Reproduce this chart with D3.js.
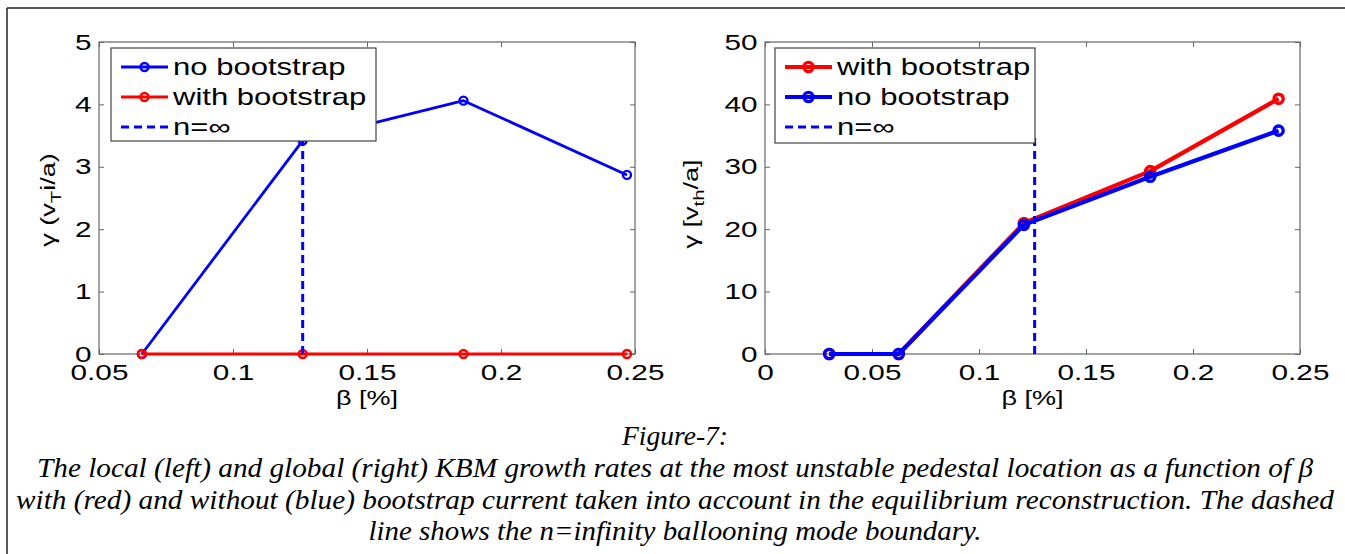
<!DOCTYPE html>
<html>
<head>
<meta charset="utf-8">
<script src="https://cdn.jsdelivr.net/npm/d3@7"></script>
<style>
  body { margin: 0; background: #fff; }
  svg { display: block; }
</style>
</head>
<body>
<div id="chart"></div>
<script>
// ---- data ----
let betaLocal = [0.066, 0.126, 0.186, 0.247];
let localNoBoot = [0, 3.42, 4.06, 2.87];
let localWithBoot = [0, 0, 0, 0];
let localBoundaryBeta = 0.126;
let localBoundaryTop = 3.42;

let betaGlobal = [0.03, 0.0625, 0.121, 0.18, 0.24];
let globalWithBoot = [0, 0, 21.0, 29.3, 40.9];
let globalNoBoot = [0, 0, 20.7, 28.4, 35.8];
let globalBoundaryBeta = 0.126;
let globalBoundaryTop = 35;

let localXTicks = [0.05, 0.1, 0.15, 0.2, 0.25];
let localYTicks = [0, 1, 2, 3, 4, 5];
let globalXTicks = [0, 0.05, 0.1, 0.15, 0.2, 0.25];
let globalYTicks = [0, 10, 20, 30, 40, 50];

let localLegend = ["no bootstrap", "with bootstrap", "n=\u221e"];
let globalLegend = ["with bootstrap", "no bootstrap", "n=\u221e"];

let captionLines = [
  "Figure-7:",
  "The local (left) and global (right) KBM growth rates at the most unstable pedestal location as a function of \u03b2",
  "with (red) and without (blue) bootstrap current taken into account in the equilibrium reconstruction. The dashed",
  "line shows the n=infinity ballooning mode boundary."
];

// ---- layout ----
let svgWidth = 1345;
let svgHeight = 554;
let plotTop = 42;
let plotBottom = 354;
let SX = 1.35; // the original figure text is stretched sideways
let axisColor = "#666";
let blue = "#0000ff";
let red = "#ff0000";
let sansFont = "'Liberation Sans', Arial, Helvetica, sans-serif";

let svg = d3.select("#chart")
  .append("svg")
  .attr("width", svgWidth)
  .attr("height", svgHeight);

// page frame (table cell border)
svg.append("line").attr("x1", 7).attr("x2", svgWidth).attr("y1", 8).attr("y2", 8)
  .attr("stroke", "#222").attr("stroke-width", 1.5);
svg.append("line").attr("x1", 7).attr("x2", 7).attr("y1", 8).attr("y2", svgHeight)
  .attr("stroke", "#222").attr("stroke-width", 1.5);

function drawPanel(p) {
  let x = d3.scaleLinear().domain(p.xDomain).range([p.left, p.right]);
  let y = d3.scaleLinear().domain(p.yDomain).range([plotBottom, plotTop]);
  let g = svg.append("g");

  // axes (ticks pointing inward, on all four sides)
  let bottomAxis = d3.axisBottom(x).tickValues(p.xTicks).tickFormat(d => String(d))
    .tickSizeInner(-5).tickSizeOuter(0).tickPadding(10);
  let topAxis = d3.axisTop(x).tickValues(p.xTicks).tickFormat("")
    .tickSizeInner(-5).tickSizeOuter(0);
  let leftAxis = d3.axisLeft(y).tickValues(p.yTicks).tickFormat(d => String(d))
    .tickSizeInner(-5).tickSizeOuter(0).tickPadding(5.5);
  let rightAxis = d3.axisRight(y).tickValues(p.yTicks).tickFormat("")
    .tickSizeInner(-5).tickSizeOuter(0);

  let axes = [
    g.append("g").attr("transform", `translate(0,${plotBottom})`).call(bottomAxis),
    g.append("g").attr("transform", `translate(0,${plotTop})`).call(topAxis),
    g.append("g").attr("transform", `translate(${p.left},0)`).call(leftAxis),
    g.append("g").attr("transform", `translate(${p.right},0)`).call(rightAxis)
  ];
  axes.forEach(a => {
    a.select(".domain").remove();
    a.selectAll("line").attr("stroke", axisColor);
    a.selectAll("text")
      .attr("fill", "#000")
      .style("font-family", sansFont)
      .style("font-size", "22px")
      .attr("transform", `scale(${SX},1)`);
  });

  // box
  g.append("rect")
    .attr("x", p.left).attr("y", plotTop)
    .attr("width", p.right - p.left).attr("height", plotBottom - plotTop)
    .attr("fill", "none").attr("stroke", axisColor).attr("stroke-width", 1.2);

  // series
  let line = d3.line().x(d => x(d[0])).y(d => y(d[1]));
  p.series.forEach(s => {
    let pts = d3.zip(p.beta, s.values);
    g.append("path")
      .datum(pts)
      .attr("d", line)
      .attr("fill", "none")
      .attr("stroke", s.color)
      .attr("stroke-width", p.lineWidth)
      .attr("stroke-linejoin", "round");
    g.selectAll(null)
      .data(pts)
      .enter()
      .append("circle")
      .attr("cx", d => x(d[0]))
      .attr("cy", d => y(d[1]))
      .attr("r", p.markerR)
      .attr("fill", "none")
      .attr("stroke", s.color)
      .attr("stroke-width", p.markerStroke);
  });

  // n = infinity boundary
  g.append("path")
    .datum([[p.boundaryBeta, 0], [p.boundaryBeta, p.boundaryTop]])
    .attr("d", line)
    .attr("fill", "none")
    .attr("stroke", blue)
    .attr("stroke-width", 3)
    .attr("stroke-dasharray", "8,5");

  // legend
  let lg = svg.append("g");
  lg.append("rect")
    .attr("x", p.legend.x).attr("y", p.legend.y)
    .attr("width", p.legend.w).attr("height", p.legend.h)
    .attr("fill", "#fff").attr("stroke", "#444").attr("stroke-width", 1.2);
  p.legend.items.forEach((item, i) => {
    let cy = p.legend.y + 19 + i * 30;
    let x0 = p.legend.x + 10;
    let x1 = x0 + 47;
    lg.append("line")
      .attr("x1", x0).attr("x2", x1).attr("y1", cy).attr("y2", cy)
      .attr("stroke", item.color)
      .attr("stroke-width", item.dashed ? 3 : p.lineWidth)
      .attr("stroke-dasharray", item.dashed ? "8,5" : null);
    if (!item.dashed) {
      lg.append("circle")
        .attr("cx", (x0 + x1) / 2).attr("cy", cy).attr("r", p.markerR)
        .attr("fill", "none").attr("stroke", item.color)
        .attr("stroke-width", p.markerStroke);
    }
    lg.append("text")
      .attr("transform", `translate(${x1 + 5},${cy}) scale(${SX},1)`)
      .attr("dy", "0.36em")
      .style("font-family", sansFont)
      .style("font-size", "23px")
      .text(item.label);
  });

  // x label
  svg.append("text")
    .attr("transform", `translate(${(p.left + p.right) / 2},405) scale(${SX},1)`)
    .attr("text-anchor", "middle")
    .style("font-family", sansFont)
    .style("font-size", "20px")
    .text("\u03b2 [%]");

  // y label with subscript
  let yl = svg.append("g")
    .attr("transform", `translate(${p.yLabelX},${p.yLabelY}) rotate(-90)`)
    .append("text")
    .attr("transform", `scale(${SX},1)`)
    .attr("text-anchor", "middle")
    .style("font-family", sansFont)
    .style("font-size", "20px");
  yl.append("tspan").text(p.yLabel[0]);
  yl.append("tspan").attr("dy", 6).style("font-size", "15px").text(p.yLabel[1]);
  yl.append("tspan").attr("dy", -6).text(p.yLabel[2]);
}

// left: local growth rate
drawPanel({
  left: 99, right: 635,
  xDomain: [0.05, 0.25], yDomain: [0, 5],
  xTicks: localXTicks, yTicks: localYTicks,
  beta: betaLocal,
  series: [
    { values: localNoBoot, color: blue },
    { values: localWithBoot, color: red }
  ],
  lineWidth: 2.8, markerR: 4, markerStroke: 2.4,
  boundaryBeta: localBoundaryBeta, boundaryTop: localBoundaryTop,
  legend: {
    x: 111, y: 48, w: 265, h: 93,
    items: [
      { label: localLegend[0], color: blue },
      { label: localLegend[1], color: red },
      { label: localLegend[2], color: blue, dashed: true }
    ]
  },
  yLabelX: 55, yLabelY: 200,
  yLabel: ["\u03b3 (v", "T", "i/a)"]
});

// right: global growth rate
drawPanel({
  left: 765, right: 1300,
  xDomain: [0, 0.25], yDomain: [0, 50],
  xTicks: globalXTicks, yTicks: globalYTicks,
  beta: betaGlobal,
  series: [
    { values: globalWithBoot, color: red },
    { values: globalNoBoot, color: blue }
  ],
  lineWidth: 4.2, markerR: 4.6, markerStroke: 3.4,
  boundaryBeta: globalBoundaryBeta, boundaryTop: globalBoundaryTop,
  legend: {
    x: 775, y: 48, w: 260, h: 95,
    items: [
      { label: globalLegend[0], color: red },
      { label: globalLegend[1], color: blue },
      { label: globalLegend[2], color: blue, dashed: true }
    ]
  },
  yLabelX: 698, yLabelY: 204,
  yLabel: ["\u03b3 [v", "th", "/a]"]
});

// caption
let captionBaselines = [445, 477, 509, 540];
let captionWidths = [106, 1276, 1318, 613];
svg.selectAll(".caption")
  .data(captionLines)
  .enter()
  .append("text")
  .attr("class", "caption")
  .attr("x", 675)
  .attr("y", (d, i) => captionBaselines[i])
  .attr("text-anchor", "middle")
  .attr("textLength", (d, i) => captionWidths[i])
  .attr("lengthAdjust", "spacingAndGlyphs")
  .style("font-family", "'Liberation Serif', 'Times New Roman', serif")
  .style("font-style", "italic")
  .style("font-size", "27px")
  .text(d => d);
</script>
</body>
</html>
